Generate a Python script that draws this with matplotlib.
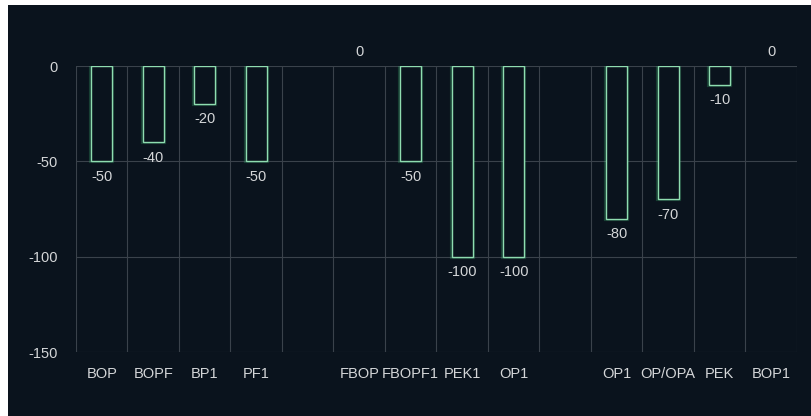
import matplotlib.pyplot as plt
from matplotlib.patches import Rectangle
import numpy as np

# data
categories = ['BOP', 'BOPF', 'BP1', 'PF1', '', 'FBOP', 'FBOPF1', 'PEK1', 'OP1',
              '', 'OP1', 'OP/OPA', 'PEK', 'BOP1']
values = [-50, -40, -20, -50, None, 0, -50, -100, -100, None, -80, -70, -10, 0]

plt.rcParams['font.family'] = ['Liberation Sans', 'DejaVu Sans']

bg = '#0a131d'
grid_col = '#3a424b'
edge = '#8fdcb0'
txt = '#d4d6d8'
fs = 10.5

fig = plt.figure(figsize=(8.12, 4.16), dpi=100)
fig.patch.set_facecolor('white')
# dark panel with small white margin top / left
fig.add_artist(Rectangle((8 / 812, 0), 1 - 8 / 812, 1 - 5 / 416,
                         transform=fig.transFigure, facecolor=bg,
                         edgecolor='none', zorder=0))

ax = fig.add_axes([76 / 812, 64 / 416, 721 / 812, 286 / 416])
ax.set_facecolor(bg)
ax.patch.set_alpha(0)

n = len(categories)
x = np.arange(n)
ax.set_xlim(-0.5, n - 0.5)
ax.set_ylim(-150, 0)

# grid
for yv in [0, -50, -100, -150]:
    ax.axhline(yv, color=grid_col, lw=0.8, zorder=1)
for b in np.arange(-0.5, n, 1.0):
    ax.axvline(b, color=grid_col, lw=0.8, zorder=1)

bw = 0.41
for i, v in enumerate(values):
    if v is None:
        continue
    if v != 0:
        # glow
        ax.bar(i, v, width=bw, facecolor='none', edgecolor='#3fbf78',
               linewidth=3.0, alpha=0.25, zorder=2)
        ax.bar(i, v, width=bw, facecolor=bg, edgecolor=edge,
               linewidth=1.0, zorder=3)
        ax.annotate(str(v), (i, v), xytext=(0, -6), textcoords='offset points',
                    ha='center', va='top', color=txt, fontsize=fs,
                    annotation_clip=False)
    else:
        ax.annotate(str(v), (i, v), xytext=(0, 5), textcoords='offset points',
                    ha='center', va='bottom', color=txt, fontsize=fs,
                    annotation_clip=False)

ax.set_xticks(x)
ax.set_xticklabels(categories, color=txt, fontsize=fs)
ax.set_yticks([0, -50, -100, -150])
ax.set_yticklabels(['0', '-50', '-100', '-150'], color=txt, fontsize=fs)
ax.tick_params(axis='both', length=0)
ax.tick_params(axis='x', pad=11)
ax.tick_params(axis='y', pad=13)
for s in ax.spines.values():
    s.set_visible(False)

fig.savefig('out.png', dpi=100, facecolor=fig.get_facecolor())
